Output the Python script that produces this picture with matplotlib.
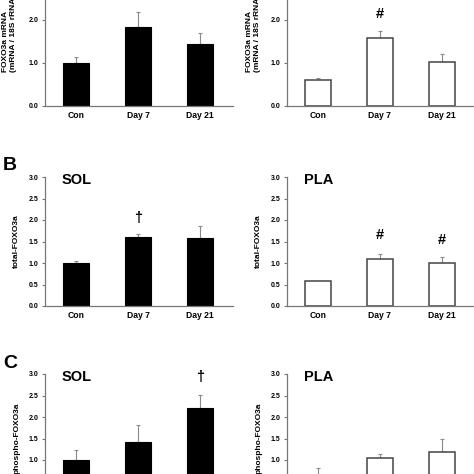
import matplotlib
matplotlib.use('Agg')
import matplotlib.pyplot as plt
import numpy as np

plt.rcParams['font.family'] = ['Liberation Sans', 'DejaVu Sans']
plt.rcParams['font.weight'] = 'bold'

groups = ['Con', 'Day 7', 'Day 21']

# row A: FOXO3a mRNA
mrna_sol = [1.00, 1.84, 1.44]
mrna_sol_err = [0.13, 0.35, 0.26]
mrna_pla = [0.60, 1.57, 1.03]
mrna_pla_err = [0.04, 0.17, 0.17]
# row B: total FOXO3a
total_sol = [1.00, 1.60, 1.57]
total_sol_err = [0.04, 0.07, 0.29]
total_pla = [0.59, 1.10, 0.99]
total_pla_err = [0.0, 0.12, 0.16]
# row C: phospho FOXO3a
phos_sol = [1.01, 1.42, 2.20]
phos_sol_err = [0.22, 0.39, 0.31]
phos_pla = [0.62, 1.04, 1.19]
phos_pla_err = [0.19, 0.11, 0.30]

# significance marks: (group index, y position, symbol)
marks_A_pla = [(1, 2.14, '#')]
marks_B_sol = [(1, 2.05, '\u2020')]
marks_B_pla = [(1, 1.65, '#'), (2, 1.53, '#')]
marks_C_sol = [(2, 2.93, '\u2020')]

W = 474.0
fig = plt.figure(figsize=(4.74, 4.74), dpi=100)

def px_axes(x0, x1, y0, y3):
    # y0 = pixel row of value 0, y3 = pixel row of value 3
    return fig.add_axes([x0 / W, 1 - y0 / W, (x1 - x0) / W, (y0 - y3) / W])

def draw(ax, vals, errs, filled, step, marks, title, ylabel, ylab_y=0.5, ylab_x=-0.15):
    x = np.arange(len(groups))
    if filled:
        ax.bar(x, vals, 0.42, color='black', edgecolor='black', linewidth=0.8, zorder=2)
    else:
        ax.bar(x, vals, 0.42, color='white', edgecolor='#444444', linewidth=1.1, zorder=2)
    lo = np.zeros(len(errs))
    ax.errorbar(x, vals, yerr=[lo, errs], fmt='none', ecolor='#8a8a8a',
                elinewidth=0.8, capsize=1.5, capthick=0.8, zorder=1)
    ax.set_xlim(-0.5, 2.53)
    ax.set_ylim(0, 3.0)
    ax.set_yticks(np.arange(0, 3.01, step))
    ax.set_yticklabels(['%.1f' % v for v in np.arange(0, 3.01, step)], fontsize=5, fontweight='bold')
    ax.set_xticks(x)
    ax.set_xticklabels(groups, fontsize=6.2, fontweight='bold')
    ax.tick_params(axis='x', length=0, pad=3.5)
    ax.tick_params(axis='y', length=2, width=0.8, pad=2.5, color='#777777')
    for s in ['top', 'right']:
        ax.spines[s].set_visible(False)
    for s in ['left', 'bottom']:
        ax.spines[s].set_color('#777777')
        ax.spines[s].set_linewidth(0.9)
    for i, y, sym in marks:
        ax.text(i, y, sym, ha='center', va='center', fontsize=10.5, fontweight='bold')
    if title:
        ax.text(-0.23, 2.84, title, fontsize=10.5, fontweight='bold', ha='left', va='baseline')
    ax.text(ylab_x, ylab_y, ylabel, transform=ax.transAxes, rotation=90,
            ha='center', va='center' if ylab_y == 0.5 else 'bottom',
            multialignment='left', fontsize=6, fontweight='bold')

# row A
axA1 = px_axes(45, 233, 106, -23)
draw(axA1, mrna_sol, mrna_sol_err, True, 1.0, [], None,
     'FOXO3a mRNA\n(mRNA / 18S rRNA)', ylab_y=0.264, ylab_x=-0.19)
axA2 = px_axes(287, 474.5, 106, -23)
draw(axA2, mrna_pla, mrna_pla_err, False, 1.0, marks_A_pla, None,
     'FOXO3a mRNA\n(mRNA / 18S rRNA)', ylab_y=0.264, ylab_x=-0.18)

# row B
axB1 = px_axes(45, 233, 306, 177)
draw(axB1, total_sol, total_sol_err, True, 0.5, marks_B_sol, 'SOL', 'total-FOXO3a', ylab_x=-0.152)
axB2 = px_axes(287, 474.5, 306, 177)
draw(axB2, total_pla, total_pla_err, False, 0.5, marks_B_pla, 'PLA', 'total-FOXO3a', ylab_x=-0.152)

# row C
axC1 = px_axes(45, 233, 503, 374)
draw(axC1, phos_sol, phos_sol_err, True, 0.5, marks_C_sol, 'SOL', 'phospho-FOXO3a', ylab_x=-0.152)
axC2 = px_axes(287, 474.5, 503, 374)
draw(axC2, phos_pla, phos_pla_err, False, 0.5, [], 'PLA', 'phospho-FOXO3a', ylab_x=-0.152)

fig.text(3 / W, 1 - 170 / W, 'B', fontsize=14, fontweight='bold', ha='left', va='baseline')
fig.text(3 / W, 1 - 368 / W, 'C', fontsize=14, fontweight='bold', ha='left', va='baseline')

plt.savefig('out.png', dpi=100)
